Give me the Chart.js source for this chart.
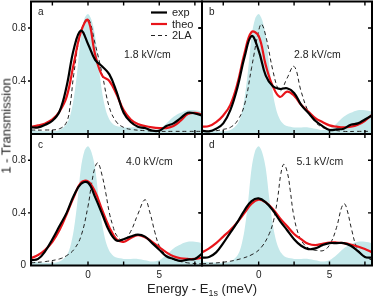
<!DOCTYPE html>
<html>
<head>
<meta charset="utf-8">
<script src="https://cdn.jsdelivr.net/npm/chart.js@4.4.1/dist/chart.umd.min.js"></script>
<style>
  body { margin: 0; background: #fff; }
  #wrap { position: relative; width: 374px; height: 296px; font-family: "Liberation Sans", Arial, sans-serif; color: #222; }
  #wrap canvas { position: absolute; left: 0; top: 0; }
  .ytitle { position: absolute; left: 6px; top: 126px; transform: translate(-50%, -50%) rotate(-90deg); font-size: 13px; white-space: nowrap; }
  .xtitle { position: absolute; left: 202px; top: 288px; transform: translate(-50%, -50%); font-size: 13px; white-space: nowrap; }
  .xtitle sub { font-size: 9px; vertical-align: -3px; line-height: 0; }
</style>
</head>
<body>
<div id="wrap">
  <canvas id="pa" width="374" height="296"></canvas>
  <canvas id="pb" width="374" height="296"></canvas>
  <canvas id="pc" width="374" height="296"></canvas>
  <canvas id="pd" width="374" height="296"></canvas>
  <div class="ytitle">1 - Transmission</div>
  <div class="xtitle">Energy - E<sub>1s</sub> (meV)</div>
</div>
<script>
// energy grid (meV) for exp / theo curves
const energy = [-4, -3.5, -3, -2.5, -2, -1.5, -1, -0.5, 0, 0.5, 1, 1.5, 2, 2.5, 3, 3.5, 4, 4.5, 5, 5.5, 6, 6.5, 7, 7.5, 8];

const expA  = [0.05, 0.05, 0.07, 0.10, 0.17, 0.36, 0.64, 0.78, 0.68, 0.56, 0.51, 0.45, 0.32, 0.16, 0.09, 0.055, 0.045, 0.025, 0.025, 0.06, 0.08, 0.12, 0.16, 0.155, 0.14];
const theoA = [0.055, 0.065, 0.08, 0.11, 0.17, 0.28, 0.53, 0.77, 0.86, 0.60, 0.44, 0.40, 0.30, 0.18, 0.11, 0.075, 0.06, 0.05, 0.045, 0.045, 0.06, 0.10, 0.15, 0.16, 0.145];

const expB  = [0.025, 0.02, 0.04, 0.08, 0.18, 0.35, 0.58, 0.74, 0.63, 0.44, 0.36, 0.34, 0.345, 0.31, 0.22, 0.16, 0.10, 0.06, 0.03, 0.035, 0.04, 0.07, 0.08, 0.11, 0.14];
const theoB = [0.055, 0.06, 0.09, 0.14, 0.22, 0.38, 0.61, 0.77, 0.74, 0.52, 0.36, 0.28, 0.32, 0.29, 0.22, 0.17, 0.12, 0.09, 0.065, 0.055, 0.05, 0.055, 0.07, 0.10, 0.145];

const expC  = [0.04, 0.05, 0.11, 0.20, 0.30, 0.40, 0.53, 0.62, 0.63, 0.52, 0.39, 0.26, 0.19, 0.20, 0.22, 0.235, 0.22, 0.17, 0.12, 0.07, 0.05, 0.035, 0.045, 0.05, 0.09];
const theoC = [0.055, 0.08, 0.12, 0.18, 0.27, 0.39, 0.52, 0.63, 0.64, 0.56, 0.42, 0.29, 0.20, 0.18, 0.21, 0.23, 0.215, 0.18, 0.14, 0.10, 0.07, 0.055, 0.05, 0.05, 0.06];

const expD  = [0.06, 0.065, 0.10, 0.17, 0.25, 0.33, 0.42, 0.49, 0.51, 0.48, 0.42, 0.34, 0.27, 0.20, 0.15, 0.125, 0.13, 0.155, 0.17, 0.17, 0.17, 0.15, 0.11, 0.065, 0.06];
const theoD = [0.10, 0.13, 0.17, 0.22, 0.27, 0.33, 0.40, 0.47, 0.50, 0.48, 0.43, 0.36, 0.30, 0.24, 0.20, 0.165, 0.155, 0.165, 0.175, 0.175, 0.17, 0.16, 0.145, 0.125, 0.10];

// 2LA curves, [energy, value]
const twoLaA = [[-4, 0.03], [-3, 0.03], [-2, 0.04], [-1.5, 0.09], [-1.25, 0.22], [-1, 0.45], [-0.5, 0.77], [0, 0.87], [0.5, 0.68], [1, 0.45], [1.5, 0.20], [2, 0.09], [2.5, 0.05], [3, 0.035], [4, 0.025], [5, 0.02], [6, 0.02], [7, 0.02], [8, 0.02]];
const twoLaB = [[-4, 0.02], [-3, 0.025], [-2.5, 0.035], [-2, 0.05], [-1.5, 0.10], [-1, 0.22], [-0.5, 0.50], [0, 0.78], [0.2, 0.83], [0.5, 0.74], [1, 0.48], [1.4, 0.33], [1.6, 0.33], [2, 0.42], [2.5, 0.51], [3, 0.32], [3.5, 0.17], [4, 0.09], [4.5, 0.05], [5, 0.035], [6, 0.02], [7, 0.02], [8, 0.02]];
const twoLaC = [[-4, 0.02], [-3, 0.03], [-2, 0.05], [-1.5, 0.075], [-1, 0.12], [-0.5, 0.22], [0, 0.45], [0.25, 0.62], [0.5, 0.75], [0.7, 0.78], [1, 0.68], [1.25, 0.55], [1.5, 0.40], [1.75, 0.30], [2, 0.23], [2.5, 0.19], [3, 0.26], [3.5, 0.39], [4, 0.50], [4.35, 0.40], [4.7, 0.25], [5, 0.15], [5.5, 0.075], [6, 0.045], [7, 0.02], [8, 0.012]];
const twoLaD = [[-4, 0.013], [-2.5, 0.025], [-1.3, 0.05], [-0.35, 0.09], [0.2, 0.14], [0.7, 0.23], [1.05, 0.34], [1.35, 0.52], [1.57, 0.70], [1.78, 0.77], [2.04, 0.70], [2.23, 0.57], [2.46, 0.39], [2.8, 0.24], [3.17, 0.165], [3.64, 0.125], [4.1, 0.115], [4.6, 0.115], [5.05, 0.165], [5.5, 0.29], [5.85, 0.44], [6.05, 0.47], [6.25, 0.42], [6.57, 0.27], [6.92, 0.14], [7.4, 0.075], [8, 0.04]];

// zero field spectrum (shaded), same in all panels
const zeroField = [[-4, 0.03], [-3, 0.02], [-2.5, 0.02], [-2, 0.03], [-1.5, 0.076], [-1.25, 0.14], [-1, 0.27], [-0.75, 0.48], [-0.5, 0.74], [-0.25, 0.87], [0, 0.906], [0.25, 0.86], [0.5, 0.74], [0.75, 0.51], [1, 0.31], [1.25, 0.18], [1.5, 0.11], [1.75, 0.076], [2, 0.06], [2.5, 0.05], [3, 0.05], [3.5, 0.05], [4, 0.04], [4.5, 0.03], [5, 0.04], [5.5, 0.08], [6, 0.13], [6.5, 0.16], [7, 0.18], [7.5, 0.18], [8, 0.17]];

const xTicks = [-2.5, 0, 2.5, 5, 7.5];
const xLabels = [0, 5];
const yTicks = [0, 0.4, 0.8];
const fields = ['1.8 kV/cm', '2.8 kV/cm', '4.0 kV/cm', '5.1 kV/cm'];
const letters = ['a', 'b', 'c', 'd'];

const FONT = '"Liberation Sans", Arial, sans-serif';
const RED = '#e8141a';

const onGrid = arr => energy.map((e, i) => ({x: e, y: arr[i]}));
const fromPairs = arr => arr.map(p => ({x: p[0], y: p[1]}));

const panelFrame = {
  id: 'panelFrame',
  afterDatasetsDraw(chart, args, o) {
    const ctx = chart.ctx, a = chart.chartArea;
    const x = chart.scales.x, y = chart.scales.y;
    ctx.save();
    ctx.strokeStyle = '#000';
    ctx.lineWidth = 1.4;
    ctx.beginPath();
    xTicks.forEach(v => {
      const px = x.getPixelForValue(v);
      ctx.moveTo(px, a.bottom); ctx.lineTo(px, a.bottom - 4);
      ctx.moveTo(px, a.top); ctx.lineTo(px, a.top + 4);
    });
    yTicks.slice(1).forEach(v => {
      const py = y.getPixelForValue(v);
      ctx.moveTo(a.left - 3, py); ctx.lineTo(a.left, py);
      ctx.moveTo(a.right, py); ctx.lineTo(a.right - 4, py);
    });
    ctx.stroke();
    ctx.lineWidth = 2;
    ctx.strokeRect(a.left, a.top, a.right - a.left, a.bottom - a.top);

    ctx.fillStyle = '#222';
    ctx.textBaseline = 'alphabetic';
    ctx.font = '10px ' + FONT;
    ctx.fillText(o.letter, a.left + 7, a.top + 13.5);
    ctx.font = '10.5px ' + FONT;
    ctx.fillText(o.field, a.left + o.fx, a.top + o.fy);

    if (o.legend) {
      const rows = [11, 22.5, 34];
      chart.data.datasets.filter(d => d.label).forEach((d, i) => {
        const ly = a.top + rows[i];
        ctx.save();
        ctx.strokeStyle = d.borderColor;
        ctx.lineWidth = d.borderWidth;
        ctx.setLineDash(d.borderDash || []);
        ctx.beginPath();
        ctx.moveTo(a.left + 120, ly);
        ctx.lineTo(a.left + 136, ly);
        ctx.stroke();
        ctx.restore();
        ctx.font = '11px ' + FONT;
        ctx.textBaseline = 'middle';
        ctx.fillText(d.label, a.left + 141, ly + 0.5);
      });
    }
    ctx.restore();
  }
};

function makePanel(id, rect, exp, theo, twoLa, opts) {
  const noPad = s => { s.paddingTop = 0; s.paddingBottom = 0; s.paddingLeft = 0; s.paddingRight = 0; };
  return new Chart(document.getElementById(id), {
    type: 'line',
    data: {
      datasets: [
        { label: 'exp', data: onGrid(exp), borderColor: '#000', borderWidth: 2.2, tension: 0.4 },
        { label: 'theo', data: onGrid(theo), borderColor: RED, borderWidth: 2.2, tension: 0.4 },
        { label: '2LA', data: fromPairs(twoLa), borderColor: '#222', borderWidth: 1, borderDash: [4, 3], tension: 0.4 },
        { data: fromPairs(zeroField), borderWidth: 0, borderColor: 'rgba(0,0,0,0)', backgroundColor: '#c4e8ea', fill: 'origin', tension: 0.3 }
      ]
    },
    options: {
      responsive: false,
      animation: false,
      events: [],
      elements: { point: { radius: 0 } },
      // the axis boxes take up the space left and below the panel
      layout: { padding: { left: 0, top: rect.t, right: 374 - rect.r, bottom: 0 } },
      plugins: {
        legend: { display: false },
        tooltip: { enabled: false },
        panelFrame: opts
      },
      scales: {
        x: {
          type: 'linear', min: -4, max: 8,
          afterBuildTicks: s => { s.ticks = xTicks.map(v => ({value: v})); },
          afterFit: s => { s.height = 296 - rect.b; noPad(s); },
          grid: { display: false, drawTicks: false },
          border: { display: false },
          ticks: {
            display: opts.showX, autoSkip: false, maxRotation: 0, padding: 4,
            color: '#222', font: { family: FONT, size: 10 },
            callback: v => xLabels.includes(v) ? String(v) : ''
          }
        },
        y: {
          min: 0, max: 1,
          afterBuildTicks: s => { s.ticks = yTicks.map(v => ({value: v})); },
          afterFit: s => { s.width = rect.l; noPad(s); },
          grid: { display: false, drawTicks: false },
          border: { display: false },
          ticks: {
            display: opts.showY, padding: 5,
            color: '#222', font: { family: FONT, size: 10 },
            callback: v => (v === 0 && !opts.showZero) ? '' : String(v)
          }
        }
      }
    },
    plugins: [panelFrame]
  });
}

makePanel('pa', {l: 31, r: 202, t: 1.5, b: 134}, expA, theoA, twoLaA,
  { letter: letters[0], field: fields[0], fx: 93, fy: 56.5, legend: true, showX: false, showY: true, showZero: false });
makePanel('pb', {l: 202, r: 372, t: 1.5, b: 134}, expB, theoB, twoLaB,
  { letter: letters[1], field: fields[1], fx: 92, fy: 56.5, legend: false, showX: false, showY: false, showZero: false });
makePanel('pc', {l: 31, r: 202, t: 134, b: 265.5}, expC, theoC, twoLaC,
  { letter: letters[2], field: fields[2], fx: 95, fy: 31, legend: false, showX: true, showY: true, showZero: true });
makePanel('pd', {l: 202, r: 372, t: 134, b: 265.5}, expD, theoD, twoLaD,
  { letter: letters[3], field: fields[3], fx: 94.5, fy: 31, legend: false, showX: true, showY: false, showZero: false });
</script>
</body>
</html>
